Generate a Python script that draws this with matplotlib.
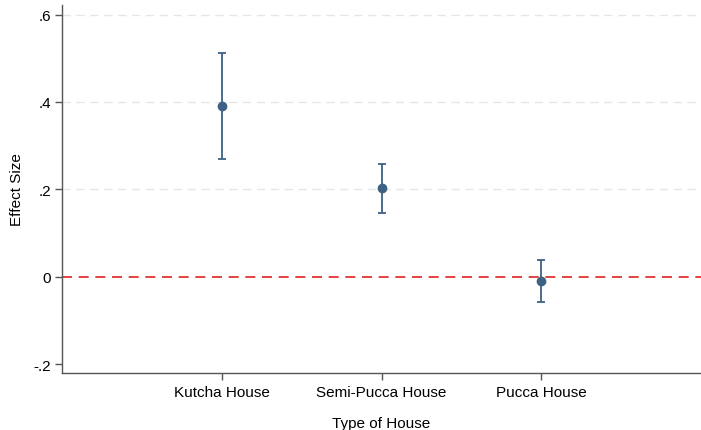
import matplotlib
matplotlib.use("Agg")
import matplotlib.pyplot as plt
from matplotlib.ticker import FuncFormatter

plt.rcParams['font.family'] = ['Liberation Sans', 'DejaVu Sans']

# data
categories = ['Kutcha House', 'Semi-Pucca House', 'Pucca House']
effect = [0.390, 0.202, -0.010]
ci_low = [0.270, 0.146, -0.058]
ci_high = [0.511, 0.258, 0.038]
yticks = [-0.2, 0, 0.2, 0.4, 0.6]

W, H = 701, 431
fig = plt.figure(figsize=(W / 100, H / 100), dpi=100)
ax = fig.add_axes([62 / W, (H - 374) / H, (W - 62) / W, (374 - 6) / H])

xpos = list(range(1, len(categories) + 1))
col = '#3d6283'

# grid lines (skip the zero line, it gets the red dashed one)
for t in yticks:
    if t > 0:
        ax.axhline(t, color='#e6e6e6', lw=1, ls=(0, (6, 4)), zorder=0)
ax.axhline(0, color='#e0241f', lw=1.2, ls=(0, (6, 4)), zorder=1)

yerr = [[e - lo for e, lo in zip(effect, ci_low)],
        [hi - e for e, hi in zip(effect, ci_high)]]
ax.errorbar(xpos, effect, yerr=yerr, fmt='o', color=col, ms=6,
            elinewidth=1.3, capsize=3, capthick=1.3, zorder=3)

ax.set_xlim(0, 4)
ax.set_ylim(-0.2206, 0.622)
ax.set_xticks(xpos)
ax.set_xticklabels(categories, fontsize=11)
ax.set_yticks(yticks)
ax.yaxis.set_major_formatter(FuncFormatter(
    lambda v, p: '0' if abs(v) < 1e-9 else ('%.1f' % v).replace('0.', '.')))
ax.tick_params(axis='y', labelsize=11, length=5, width=1, color='#555555', pad=3)
ax.tick_params(axis='x', length=5, width=1, color='#555555', pad=4)

for s in ['top', 'right']:
    ax.spines[s].set_visible(False)
for s in ['left', 'bottom']:
    ax.spines[s].set_color('#555555')
    ax.spines[s].set_linewidth(1)

ax.set_xlabel('Type of House', fontsize=11, labelpad=12)
ax.set_ylabel('Effect Size', fontsize=11, labelpad=7)

fig.savefig('out.png', dpi=100)
